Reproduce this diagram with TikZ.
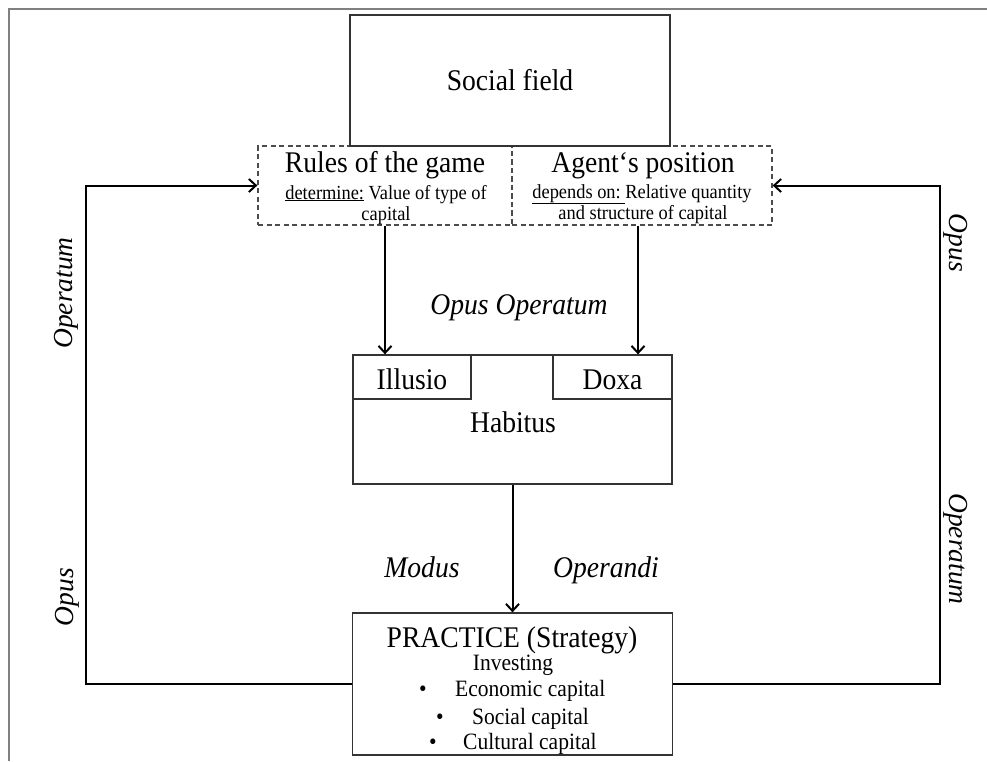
\documentclass[tikz,border=0pt]{standalone}
\usepackage{fontspec}
\setmainfont[FakeStretch=0.92]{Liberation Serif}
\newfontfamily\rotfont{Liberation Serif}
\usetikzlibrary{arrows.meta}
\begin{document}
\begin{tikzpicture}[x=1pt,y=-1pt,
  boxs/.style={draw=black!80, line width=1.3pt, inner sep=0pt, rectangle},
  dbox/.style={draw=black!70, line width=1.3pt, dash pattern=on 5pt off 3.5pt, inner sep=0pt, rectangle},
  big/.style={font=\fontsize{30}{34}\selectfont, inner sep=0pt, anchor=base},
  bigit/.style={font=\fontsize{30}{34}\selectfont\itshape, inner sep=0pt},
  rotit/.style={font=\rotfont\fontsize{27.5}{32}\selectfont\itshape, inner sep=0pt},
  small/.style={font=\fontsize{20}{24}\selectfont, inner sep=0pt, anchor=base},
  item/.style={font=\fontsize{23.4}{27}\selectfont, inner sep=0pt},
  conn/.style={draw=black, line width=2pt, -{Straight Barb[length=7pt,width=13pt,line width=2pt]}}
]
\useasboundingbox (0,0) rectangle (987,761);
% outer frame (cropped)
\draw[draw=black!50, line width=2.2pt] (9,761) -- (9,9) -- (987,9);

% dashed boxes
\node[dbox, minimum width=254pt, minimum height=79pt] (rules) at (385,185.5) {};
\node[dbox, minimum width=260pt, minimum height=79pt] (agent) at (642,185.5) {};
% social field
\node[boxs, fill=white, minimum width=320pt, minimum height=131pt, font=\fontsize{30}{34}\selectfont] (social) at (510,80.5) {Social field};

\node[big] (rtitle) at (385,172) {Rules of the game};
\node[small] (rl1) at (386,199) {\underline{determine:} Value of type of};
\node[small] (rl2) at (386,220) {capital};
\node[big] (atitle) at (643,172) {Agent‘s position};
\node[small] (al1) at (642,198) {\underline{depends on:\ }Relative quantity};
\node[small] (al2) at (643,219) {and structure of capital};

% habitus
\node[boxs, minimum width=319pt, minimum height=129pt] (habitus) at (512.5,419.5) {};
\node[boxs, minimum width=118pt, minimum height=44pt] (illusio) at (412,377) {};
\node[boxs, minimum width=119pt, minimum height=44pt] (doxa) at (612.5,377) {};
\node[big] (illusiot) at (412,389) {Illusio};
\node[big] (doxat) at (612.5,389) {Doxa};
\node[big] (habitust) at (513,432) {Habitus};

% practice
\node[boxs, minimum width=320pt, minimum height=142pt] (practice) at (512.5,684) {};
\node[big] (prt) at (512,647) {PRACTICE (Strategy)};
\node[item, anchor=base] (inv) at (513,670) {Investing};
\node[item, anchor=base] (b1) at (423,696) {•};
\node[item, anchor=base west] (i1) at (455,696) {Economic capital};
\node[item, anchor=base] (b2) at (440,724) {•};
\node[item, anchor=base west] (i2) at (472,724) {Social capital};
\node[item, anchor=base] (b3) at (433,749) {•};
\node[item, anchor=base west] (i3) at (463,749) {Cultural capital};

% labels
\node[bigit, anchor=base] (oo) at (519,314) {Opus Operatum};
\node[bigit, anchor=base] (modus) at (422,577) {Modus};
\node[bigit, anchor=base] (operandi) at (606,577) {Operandi};
\node[rotit, rotate=90] (lop) at (66,293) {Operatum};
\node[rotit, rotate=90] (lopus) at (67,597) {Opus};
\node[rotit, rotate=-90] (ropus) at (956,243) {Opus};
\node[rotit, rotate=-90] (rop) at (956,549) {Operatum};

% connectors
\coordinate (agentout) at ([xshift=-4pt]agent.south);
\coordinate (lcorner) at (86,185.5);
\coordinate (rcorner) at (940,185.5);
\draw[conn] (rules.south) -- (rules.south |- habitus.north);
\draw[conn] (agentout) -- (agentout |- habitus.north);
\draw[conn] (habitus.south) -- (practice.north);
\draw[conn] (practice.west) -| (lcorner) -- (rules.west);
\draw[conn] (practice.east) -| (rcorner) -- (agent.east);
\end{tikzpicture}
\end{document}
